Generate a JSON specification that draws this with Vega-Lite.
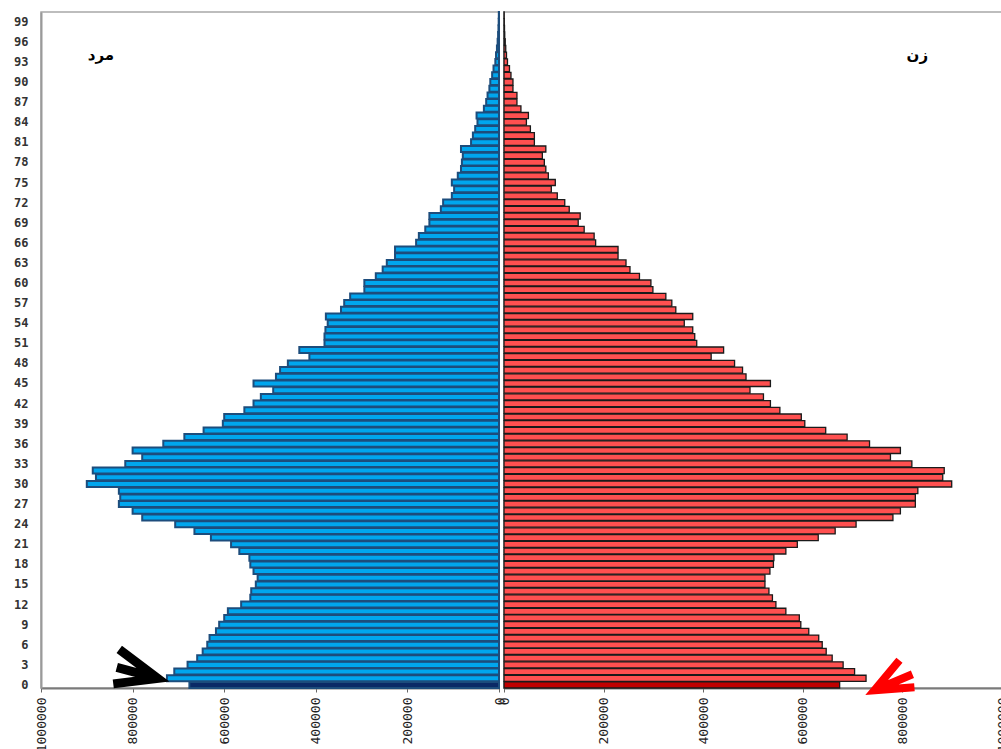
{
  "$schema": "https://vega.github.io/schema/vega-lite/v6.json",
  "background": "white",
  "padding": {"left": 0, "top": 10, "right": 0, "bottom": 0},
  "spacing": 5,
  "bounds": "flush",
  "config": {
    "view": {"stroke": "#a8a8a8", "strokeWidth": 1.5},
    "axis": {"grid": false, "title": null}
  },
  "resolve": {"scale": {"x": "independent", "y": "independent"}},
  "datasets": {
    "pop": [
      {"age":0,"sex":"M","pop":676000},{"age":1,"sex":"M","pop":725000},{"age":2,"sex":"M","pop":709000},{"age":3,"sex":"M","pop":680000},{"age":4,"sex":"M","pop":659000},
      {"age":5,"sex":"M","pop":647000},{"age":6,"sex":"M","pop":637000},{"age":7,"sex":"M","pop":632000},{"age":8,"sex":"M","pop":618000},{"age":9,"sex":"M","pop":611000},
      {"age":10,"sex":"M","pop":600000},{"age":11,"sex":"M","pop":592000},{"age":12,"sex":"M","pop":563000},{"age":13,"sex":"M","pop":543000},{"age":14,"sex":"M","pop":541000},
      {"age":15,"sex":"M","pop":531000},{"age":16,"sex":"M","pop":527000},{"age":17,"sex":"M","pop":536000},{"age":18,"sex":"M","pop":543000},{"age":19,"sex":"M","pop":545000},
      {"age":20,"sex":"M","pop":567000},{"age":21,"sex":"M","pop":585000},{"age":22,"sex":"M","pop":629000},{"age":23,"sex":"M","pop":665000},{"age":24,"sex":"M","pop":707000},
      {"age":25,"sex":"M","pop":779000},{"age":26,"sex":"M","pop":800000},{"age":27,"sex":"M","pop":830000},{"age":28,"sex":"M","pop":827000},{"age":29,"sex":"M","pop":830000},
      {"age":30,"sex":"M","pop":900000},{"age":31,"sex":"M","pop":880000},{"age":32,"sex":"M","pop":887000},{"age":33,"sex":"M","pop":816000},{"age":34,"sex":"M","pop":779000},
      {"age":35,"sex":"M","pop":800000},{"age":36,"sex":"M","pop":733000},{"age":37,"sex":"M","pop":687000},{"age":38,"sex":"M","pop":645000},{"age":39,"sex":"M","pop":603000},
      {"age":40,"sex":"M","pop":600000},{"age":41,"sex":"M","pop":556000},{"age":42,"sex":"M","pop":536000},{"age":43,"sex":"M","pop":520000},{"age":44,"sex":"M","pop":493000},
      {"age":45,"sex":"M","pop":536000},{"age":46,"sex":"M","pop":487000},{"age":47,"sex":"M","pop":478000},{"age":48,"sex":"M","pop":461000},{"age":49,"sex":"M","pop":414000},
      {"age":50,"sex":"M","pop":436000},{"age":51,"sex":"M","pop":381000},{"age":52,"sex":"M","pop":381000},{"age":53,"sex":"M","pop":379000},{"age":54,"sex":"M","pop":374000},
      {"age":55,"sex":"M","pop":378000},{"age":56,"sex":"M","pop":345000},{"age":57,"sex":"M","pop":338000},{"age":58,"sex":"M","pop":325000},{"age":59,"sex":"M","pop":294000},
      {"age":60,"sex":"M","pop":294000},{"age":61,"sex":"M","pop":269000},{"age":62,"sex":"M","pop":254000},{"age":63,"sex":"M","pop":245000},{"age":64,"sex":"M","pop":227000},
      {"age":65,"sex":"M","pop":227000},{"age":66,"sex":"M","pop":181000},{"age":67,"sex":"M","pop":175000},{"age":68,"sex":"M","pop":161000},{"age":69,"sex":"M","pop":152000},
      {"age":70,"sex":"M","pop":152000},{"age":71,"sex":"M","pop":127000},{"age":72,"sex":"M","pop":122000},{"age":73,"sex":"M","pop":103000},{"age":74,"sex":"M","pop":98000},
      {"age":75,"sex":"M","pop":103000},{"age":76,"sex":"M","pop":90000},{"age":77,"sex":"M","pop":83000},{"age":78,"sex":"M","pop":81000},{"age":79,"sex":"M","pop":79000},
      {"age":80,"sex":"M","pop":83000},{"age":81,"sex":"M","pop":61000},{"age":82,"sex":"M","pop":57000},{"age":83,"sex":"M","pop":52000},{"age":84,"sex":"M","pop":47000},
      {"age":85,"sex":"M","pop":49000},{"age":86,"sex":"M","pop":33000},{"age":87,"sex":"M","pop":28000},{"age":88,"sex":"M","pop":25000},{"age":89,"sex":"M","pop":21000},
      {"age":90,"sex":"M","pop":19000},{"age":91,"sex":"M","pop":15000},{"age":92,"sex":"M","pop":12000},{"age":93,"sex":"M","pop":8000},{"age":94,"sex":"M","pop":6500},
      {"age":95,"sex":"M","pop":4500},{"age":96,"sex":"M","pop":3000},{"age":97,"sex":"M","pop":2000},{"age":98,"sex":"M","pop":1200},{"age":99,"sex":"M","pop":700},
      {"age":100,"sex":"M","pop":400},
      {"age":0,"sex":"F","pop":674000},{"age":1,"sex":"F","pop":727000},{"age":2,"sex":"F","pop":704000},{"age":3,"sex":"F","pop":681000},{"age":4,"sex":"F","pop":659000},
      {"age":5,"sex":"F","pop":647000},{"age":6,"sex":"F","pop":639000},{"age":7,"sex":"F","pop":632000},{"age":8,"sex":"F","pop":612000},{"age":9,"sex":"F","pop":596000},
      {"age":10,"sex":"F","pop":593000},{"age":11,"sex":"F","pop":566000},{"age":12,"sex":"F","pop":546000},{"age":13,"sex":"F","pop":539000},{"age":14,"sex":"F","pop":532000},
      {"age":15,"sex":"F","pop":524000},{"age":16,"sex":"F","pop":524000},{"age":17,"sex":"F","pop":534000},{"age":18,"sex":"F","pop":541000},{"age":19,"sex":"F","pop":542000},
      {"age":20,"sex":"F","pop":566000},{"age":21,"sex":"F","pop":589000},{"age":22,"sex":"F","pop":631000},{"age":23,"sex":"F","pop":665000},{"age":24,"sex":"F","pop":707000},
      {"age":25,"sex":"F","pop":781000},{"age":26,"sex":"F","pop":796000},{"age":27,"sex":"F","pop":826000},{"age":28,"sex":"F","pop":826000},{"age":29,"sex":"F","pop":831000},
      {"age":30,"sex":"F","pop":899000},{"age":31,"sex":"F","pop":881000},{"age":32,"sex":"F","pop":884000},{"age":33,"sex":"F","pop":819000},{"age":34,"sex":"F","pop":776000},
      {"age":35,"sex":"F","pop":796000},{"age":36,"sex":"F","pop":734000},{"age":37,"sex":"F","pop":689000},{"age":38,"sex":"F","pop":646000},{"age":39,"sex":"F","pop":604000},
      {"age":40,"sex":"F","pop":597000},{"age":41,"sex":"F","pop":554000},{"age":42,"sex":"F","pop":535000},{"age":43,"sex":"F","pop":521000},{"age":44,"sex":"F","pop":494000},
      {"age":45,"sex":"F","pop":535000},{"age":46,"sex":"F","pop":486000},{"age":47,"sex":"F","pop":479000},{"age":48,"sex":"F","pop":463000},{"age":49,"sex":"F","pop":416000},
      {"age":50,"sex":"F","pop":441000},{"age":51,"sex":"F","pop":387000},{"age":52,"sex":"F","pop":383000},{"age":53,"sex":"F","pop":379000},{"age":54,"sex":"F","pop":362000},
      {"age":55,"sex":"F","pop":379000},{"age":56,"sex":"F","pop":345000},{"age":57,"sex":"F","pop":337000},{"age":58,"sex":"F","pop":325000},{"age":59,"sex":"F","pop":299000},
      {"age":60,"sex":"F","pop":295000},{"age":61,"sex":"F","pop":272000},{"age":62,"sex":"F","pop":253000},{"age":63,"sex":"F","pop":245000},{"age":64,"sex":"F","pop":229000},
      {"age":65,"sex":"F","pop":229000},{"age":66,"sex":"F","pop":184000},{"age":67,"sex":"F","pop":181000},{"age":68,"sex":"F","pop":161000},{"age":69,"sex":"F","pop":149000},
      {"age":70,"sex":"F","pop":153000},{"age":71,"sex":"F","pop":131000},{"age":72,"sex":"F","pop":122000},{"age":73,"sex":"F","pop":107000},{"age":74,"sex":"F","pop":95000},
      {"age":75,"sex":"F","pop":103000},{"age":76,"sex":"F","pop":89000},{"age":77,"sex":"F","pop":84000},{"age":78,"sex":"F","pop":81000},{"age":79,"sex":"F","pop":77000},
      {"age":80,"sex":"F","pop":84000},{"age":81,"sex":"F","pop":61000},{"age":82,"sex":"F","pop":61000},{"age":83,"sex":"F","pop":53000},{"age":84,"sex":"F","pop":45000},
      {"age":85,"sex":"F","pop":49000},{"age":86,"sex":"F","pop":34000},{"age":87,"sex":"F","pop":26000},{"age":88,"sex":"F","pop":26000},{"age":89,"sex":"F","pop":18000},
      {"age":90,"sex":"F","pop":18000},{"age":91,"sex":"F","pop":14000},{"age":92,"sex":"F","pop":11000},{"age":93,"sex":"F","pop":7000},{"age":94,"sex":"F","pop":5000},
      {"age":95,"sex":"F","pop":3500},{"age":96,"sex":"F","pop":2500},{"age":97,"sex":"F","pop":1500},{"age":98,"sex":"F","pop":1000},{"age":99,"sex":"F","pop":600},
      {"age":100,"sex":"F","pop":400}
    ],
    "notes": [
      {"kind":"label","sex":"M","age":94,"pop":869000,"text":"مرد"},
      {"kind":"label","sex":"F","age":94,"pop":830000,"text":"زن"},
      {"kind":"arrow","sex":"M","age":3,"pop":792000,"text":""},
      {"kind":"arrow","sex":"F","age":1,"pop":784000,"text":""}
    ]
  },
  "hconcat": [
    {
      "width": 458,
      "height": 676,
      "encoding": {
        "y": {
          "field": "age", "type": "ordinal",
          "scale": {"domain": [100,99,98,97,96,95,94,93,92,91,90,89,88,87,86,85,84,83,82,81,80,79,78,77,76,75,74,73,72,71,70,69,68,67,66,65,64,63,62,61,60,59,58,57,56,55,54,53,52,51,50,49,48,47,46,45,44,43,42,41,40,39,38,37,36,35,34,33,32,31,30,29,28,27,26,25,24,23,22,21,20,19,18,17,16,15,14,13,12,11,10,9,8,7,6,5,4,3,2,1,0], "paddingInner": 0.1, "paddingOuter": 0},
          "axis": {
            "values": [0,3,6,9,12,15,18,21,24,27,30,33,36,39,42,45,48,51,54,57,60,63,66,69,72,75,78,81,84,87,90,93,96,99],
            "ticks": false, "labelPadding": 13, "minExtent": 40, "maxExtent": 40,
            "domainColor": "#9a9a9a", "domainWidth": 2, "labelAngle": 0, "labelOverlap": false,
            "labelFont": "DejaVu Sans Mono", "labelFontSize": 12, "labelFontWeight": "bold", "labelColor": "#333333"
          }
        },
        "x": {
          "field": "pop", "type": "quantitative",
          "scale": {"domain": [0, 1000000], "reverse": true, "nice": false, "zero": true},
          "axis": {
            "values": [0,200000,400000,600000,800000,1000000], "format": "d", "labelAngle": 270,
            "tickSize": 4, "tickColor": "#666666", "labelPadding": 5, "labelFlush": false, "labelOverlap": false,
            "domainColor": "#7a7a7a", "domainWidth": 2,
            "labelFont": "DejaVu Sans Mono", "labelFontSize": 13, "labelColor": "#222222"
          }
        }
      },
      "layer": [
        {
          "data": {"name": "pop"},
          "transform": [{"filter": "datum.sex === 'M'"}],
          "mark": {"type": "bar", "stroke": "#1d4d7c", "strokeWidth": 2},
          "encoding": {
            "fill": {"condition": {"test": "datum.age === 0", "value": "#0b2a66"}, "value": "#00a6ee"}
          }
        },
        {
          "data": {"name": "notes"},
          "transform": [{"filter": "datum.sex === 'M' && datum.kind === 'arrow'"}],
          "mark": {"type": "point", "shape": "M-0.68,-0.62L0.86,0.54L-0.92,0.76M-0.78,0.1L0.86,0.54", "filled": false, "size": 2500, "stroke": "#000000", "strokeWidth": 9, "opacity": 1, "strokeJoin": "miter", "strokeCap": "butt"},
          "encoding": {}
        },
        {
          "data": {"name": "notes"},
          "transform": [{"filter": "datum.sex === 'M' && datum.kind === 'label'"}],
          "mark": {"type": "text", "font": "DejaVu Sans", "fontSize": 15, "fontWeight": "bold", "color": "#000000"},
          "encoding": {"text": {"field": "text"}}
        }
      ]
    },
    {
      "width": 498,
      "height": 676,
      "encoding": {
        "y": {
          "field": "age", "type": "ordinal",
          "scale": {"domain": [100,99,98,97,96,95,94,93,92,91,90,89,88,87,86,85,84,83,82,81,80,79,78,77,76,75,74,73,72,71,70,69,68,67,66,65,64,63,62,61,60,59,58,57,56,55,54,53,52,51,50,49,48,47,46,45,44,43,42,41,40,39,38,37,36,35,34,33,32,31,30,29,28,27,26,25,24,23,22,21,20,19,18,17,16,15,14,13,12,11,10,9,8,7,6,5,4,3,2,1,0], "paddingInner": 0.1, "paddingOuter": 0},
          "axis": null
        },
        "x": {
          "field": "pop", "type": "quantitative",
          "scale": {"domain": [0, 1000000], "nice": false, "zero": true},
          "axis": {
            "values": [0,200000,400000,600000,800000,1000000], "format": "d", "labelAngle": 270,
            "tickSize": 4, "tickColor": "#666666", "labelPadding": 5, "labelFlush": false, "labelOverlap": false,
            "domainColor": "#7a7a7a", "domainWidth": 2,
            "labelFont": "DejaVu Sans Mono", "labelFontSize": 13, "labelColor": "#222222"
          }
        }
      },
      "layer": [
        {
          "data": {"name": "pop"},
          "transform": [{"filter": "datum.sex === 'F'"}],
          "mark": {"type": "bar", "stroke": "#1a1a1a", "strokeWidth": 1.3},
          "encoding": {
            "fill": {"condition": {"test": "datum.age === 0", "value": "#c00000"}, "value": "#ff5050"}
          }
        },
        {
          "data": {"name": "notes"},
          "transform": [{"filter": "datum.sex === 'F' && datum.kind === 'arrow'"}],
          "mark": {"type": "point", "shape": "M0.2,-0.72L-0.8,0.48L0.8,0.36M0.72,-0.16L-0.8,0.48", "filled": false, "size": 2500, "stroke": "#ff0000", "strokeWidth": 8, "opacity": 1, "strokeJoin": "miter", "strokeCap": "butt"},
          "encoding": {}
        },
        {
          "data": {"name": "notes"},
          "transform": [{"filter": "datum.sex === 'F' && datum.kind === 'label'"}],
          "mark": {"type": "text", "font": "DejaVu Sans", "fontSize": 15, "fontWeight": "bold", "color": "#000000"},
          "encoding": {"text": {"field": "text"}}
        }
      ]
    }
  ]
}
